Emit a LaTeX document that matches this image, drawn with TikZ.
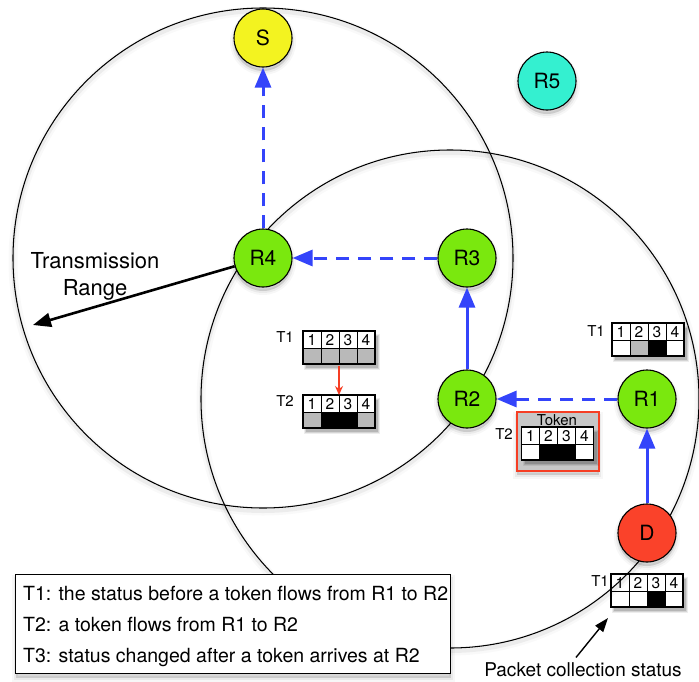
\documentclass[tikz,border=0pt]{standalone}
\usepackage{fontspec}
\setmainfont{TeX Gyre Heros}
\usetikzlibrary{arrows.meta}

\definecolor{flowblue}{RGB}{52,68,250}
\definecolor{stYellow}{RGB}{243,243,32}
\definecolor{stGreen}{RGB}{122,232,14}
\definecolor{stCyan}{RGB}{52,240,208}
\definecolor{stRed}{RGB}{250,66,42}
\definecolor{boxred}{RGB}{246,62,36}
\definecolor{cellgray}{RGB}{185,185,185}

\tikzset{
  % soft shadow under filled shapes
  softshadow/.style={
    preaction={draw=black, line width=8pt, opacity=.03, transform canvas={yshift=-4pt}},
    preaction={draw=black, line width=4pt, opacity=.05, transform canvas={yshift=-4pt}},
    preaction={fill=black, opacity=.13, transform canvas={yshift=-4pt}}
  },
  % faint halo under the range circles
  ring/.style={draw=black, line width=1.05pt,
    preaction={draw=black, line width=9pt, opacity=.025, transform canvas={yshift=-3pt}},
    preaction={draw=black, line width=4pt, opacity=.05, transform canvas={yshift=-3pt}}
  },
  station/.style={circle, draw=black, line width=1.1pt, minimum size=58pt,
    inner sep=0pt, font=\fontsize{21}{25}\selectfont, softshadow},
  flow/.style={draw=flowblue, line width=3pt, -{Triangle[length=20pt,width=16pt]}},
  dashflow/.style={flow, dash pattern=on 13pt off 9pt},
  redflow/.style={draw=boxred, line width=1.3pt, -{Stealth[length=9pt,width=8pt]}},
  pointer/.style={draw=black, line width=1.4pt, -{Triangle[length=14pt,width=10pt]}},
  digit/.style={inner sep=0pt, font=\fontsize{15.5}{17}\selectfont},
  tlabel/.style={inner sep=0pt, anchor=east, font=\fontsize{15}{17}\selectfont},
  tableframe/.style={draw=black, line width=1.5pt, anchor=north west,
    minimum width=72pt, minimum height=33pt, inner sep=0pt, outer sep=0pt},
  legendbox/.style={draw=black, line width=1.2pt, fill=white, anchor=north west,
    minimum width=435pt, minimum height=99pt, inner sep=0pt, softshadow},
  legendtext/.style={inner sep=0pt, anchor=base west, font=\fontsize{19.5}{23}\selectfont},
  tokenbox/.style={draw=boxred, line width=2.4pt, fill=black!22, anchor=north west,
    minimum width=82pt, minimum height=59pt, inner sep=0pt, softshadow},
  % packet collection table: header 1..4 and one coloured status row
  pics/statustable/.style args={#1/#2/#3/#4}{code={
    \fill[black, opacity=.07] (1,3) rectangle (77,39);
    \fill[black, opacity=.10] (2,4) rectangle (76,38);
    \fill[black, opacity=.14] (3,5) rectangle (75,37);
    \foreach \c [count=\i] in {#1,#2,#3,#4}{
      \fill[white] ({(\i-1)*18},0) rectangle ({\i*18},17);
      \fill[\c] ({(\i-1)*18},17) rectangle ({\i*18},33);
      \node[digit] (-d\i) at ({\i*18-9},9.2) {\i};
    }
    \draw[line width=.9pt] (0,17) -- (72,17);
    \foreach \k in {1,2,3} \draw[line width=.9pt] (\k*18,0) -- (\k*18,33);
    \node[tableframe] (-frame) at (0,0) {};
  }}
}

\begin{document}
\begin{tikzpicture}[x=1pt,y=-1pt]
\fill[white] (0,0) rectangle (699,681);
\useasboundingbox (0,0) rectangle (699,681);

% status tables
\node[tokenbox] (tokenbox) at (516,411) {};
\node[inner sep=0pt, font=\fontsize{15}{17}\selectfont] (token) at (557,420.5) {Token};
\pic (tA) at (303,331) {statustable={cellgray/cellgray/cellgray/cellgray}};
\pic (tB) at (303,395) {statustable={cellgray/black/black/cellgray}};
\pic (tC) at (612,323) {statustable={white/cellgray/black/white}};
\pic (tD) at (521.5,427) {statustable={white/black/black/white}};
\pic (tE) at (611,574) {statustable={white/white/black/white}};

\node[tlabel] (lA) at (294,337) {T1};
\node[tlabel] (lB) at (294,401) {T2};
\node[tlabel] (lC) at (605,331) {T1};
\node[tlabel] (lD) at (513,434) {T2};
\node[tlabel] (lE) at (609,581) {T1};

\draw[redflow, shorten <=1.5pt] (tA-frame) -- (tB-frame);

% transmission ranges
\draw[ring] (263,258) circle[radius=250];
\draw[ring] (450,399) circle[radius=249];

% legend
\node[legendbox] (legend) at (15,574) {};
\node[legendtext] (leg1) at (23,600) {T1: the status before a token flows from R1 to R2};
\node[legendtext] (leg2) at (23,631) {T2: a token flows from R1 to R2};
\node[legendtext] (leg3) at (23,662) {T3: status changed after a token arrives at R2};

% stations
\node[station, fill=stYellow] (S)  at (263,38)  {S};
\node[station, fill=stGreen]  (R4) at (263,258) {R4};
\node[station, fill=stGreen]  (R3) at (467,258) {R3};
\node[station, fill=stGreen]  (R2) at (467,399) {R2};
\node[station, fill=stGreen]  (R1) at (647,399) {R1};
\node[station, fill=stRed]    (D)  at (647,533) {D};
\node[station, fill=stCyan]   (R5) at (547,81)  {R5};

% token path
\draw[flow] (D) -- (R1);
\draw[dashflow] (R1) -- (R2);
\draw[flow] (R2) -- (R3);
\draw[dashflow] (R3) -- (R4);
\draw[dashflow] (R4) -- (S);

% range annotation
\coordinate (rangeTip) at (33,325);
\draw[line width=2.6pt, -{Triangle[length=18pt,width=14pt]}] (R4) -- (rangeTip);
\node[inner sep=0pt, anchor=base, font=\fontsize{22}{26}\selectfont] (rangeA) at (95,268) {Transmission};
\node[inner sep=0pt, anchor=base, font=\fontsize{22}{26}\selectfont] (rangeB) at (95,295) {Range};

% packet collection status annotation
\coordinate (pcsTip) at (608,618);
\node[inner sep=2pt, anchor=base, font=\fontsize{19}{22}\selectfont] (pcs) at (583,676.5) {Packet collection status};
\draw[pointer] ([xshift=-7pt,yshift=3pt]pcs.north) -- (pcsTip);
\end{tikzpicture}
\end{document}
